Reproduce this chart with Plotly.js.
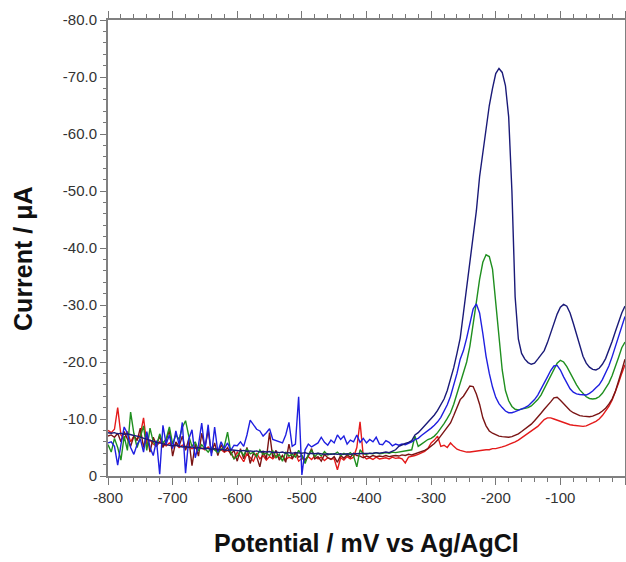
<!DOCTYPE html>
<html>
<head>
<meta charset="utf-8">
<script src="https://cdn.plot.ly/plotly-3.0.1.min.js"></script>
<style>html,body{margin:0;padding:0;background:#fff;}#chart{width:626px;height:562px;}</style>
</head>
<body>
<div id="chart"></div>
<script>
// Potential (mV vs Ag/AgCl), 5 mV steps from -800 to 0
const potential = [
-800,-795,-790,-785,-780,-775,-770,-765,-760,-755,
-750,-745,-740,-735,-730,-725,-720,-715,-710,-705,
-700,-695,-690,-685,-680,-675,-670,-665,-660,-655,
-650,-645,-640,-635,-630,-625,-620,-615,-610,-605,
-600,-595,-590,-585,-580,-575,-570,-565,-560,-555,
-550,-545,-540,-535,-530,-525,-520,-515,-510,-505,
-500,-495,-490,-485,-480,-475,-470,-465,-460,-455,
-450,-445,-440,-435,-430,-425,-420,-415,-410,-405,
-400,-395,-390,-385,-380,-375,-370,-365,-360,-355,
-350,-345,-340,-335,-330,-325,-320,-315,-310,-305,
-300,-295,-290,-285,-280,-275,-270,-265,-260,-255,
-250,-245,-240,-235,-230,-225,-220,-215,-210,-205,
-200,-195,-190,-185,-180,-175,-170,-165,-160,-155,
-150,-145,-140,-135,-130,-125,-120,-115,-110,-105,
-100,-95,-90,-85,-80,-75,-70,-65,-60,-55,
-50,-45,-40,-35,-30,-25,-20,-15,-10,-5,
0];

// Current (µA) for each curve
const currentNavy = [
-7.6,-7.5,-7.6,-7.4,-7.5,-7.3,-7.4,-7.2,-7.1,-7.0,
-6.8,-6.7,-6.5,-6.3,-6.0,-5.9,-5.8,-5.6,-5.5,-5.4,
-5.3,-5.4,-5.2,-5.1,-5.2,-5.0,-5.1,-4.9,-5.0,-4.8,
-4.9,-4.8,-4.7,-4.8,-4.6,-4.7,-4.6,-4.5,-4.6,-4.5,
-4.5,-4.4,-4.5,-4.3,-4.4,-4.3,-4.4,-4.2,-4.3,-4.2,
-4.3,-4.1,-4.2,-4.1,-4.2,-4.0,-4.1,-4.0,-4.1,-4.0,
-4.0,-4.1,-3.9,-4.0,-3.9,-4.0,-3.9,-3.8,-3.9,-3.8,
-3.9,-3.8,-3.9,-3.8,-3.9,-3.8,-3.9,-3.9,-4.0,-3.9,
-4.0,-3.9,-4.0,-4.1,-4.0,-4.1,-4.2,-4.1,-4.3,-4.6,
-5.2,-5.5,-5.7,-5.9,-6.2,-7.2,-7.6,-8.2,-8.8,-9.5,
-10.1,-10.7,-11.5,-12.4,-13.5,-15.0,-16.8,-19.0,-21.5,-24.2,
-28.6,-33.0,-37.3,-41.5,-46.5,-52.5,-57.0,-61.0,-65.0,-68.0,
-70.6,-71.5,-70.8,-68.5,-63.0,-50.0,-31.4,-24.0,-21.5,-20.5,
-19.9,-19.6,-19.8,-20.5,-21.2,-22.0,-23.4,-25.0,-26.8,-28.4,
-29.6,-30.1,-29.8,-28.6,-26.8,-24.8,-22.8,-21.0,-19.8,-19.1,
-18.7,-18.6,-18.9,-19.6,-20.6,-22.0,-23.6,-25.3,-27.0,-28.6,
-29.8];

const currentBlue = [
-5.8,-6.0,-5.2,-1.9,-5.5,-8.6,-7.5,-5.0,-3.8,-5.5,
-6.5,-4.2,-7.8,-5.0,-3.6,-6.2,-0.3,-8.9,-5.6,-7.2,
-4.8,-7.9,-5.5,-9.4,-0.5,-6.5,-8.1,-3.2,-5.4,-9.3,
-4.6,-9.0,-3.5,-8.6,-4.2,-6.0,-4.8,-5.8,-4.5,-5.4,
-5.3,-6.0,-5.2,-7.2,-9.8,-9.0,-8.2,-7.9,-7.0,-7.6,
-8.3,-6.4,-6.2,-6.0,-5.8,-7.2,-9.4,-5.2,-5.6,-13.9,
-0.2,-4.6,-5.6,-5.1,-5.4,-5.8,-6.8,-5.9,-5.4,-6.3,
-5.8,-7.2,-6.4,-7.0,-5.6,-6.3,-6.0,-7.2,-5.9,-6.6,
-5.8,-6.4,-6.0,-6.8,-5.6,-5.5,-6.2,-5.9,-5.3,-5.6,
-5.4,-5.6,-5.5,-5.7,-6.0,-6.4,-6.6,-7.1,-7.5,-8.0,
-8.4,-8.9,-9.5,-10.3,-11.3,-12.5,-14.0,-15.8,-18.0,-20.5,
-22.0,-24.2,-26.8,-29.3,-30.2,-28.6,-25.0,-21.0,-18.0,-15.6,
-13.8,-12.7,-12.0,-11.4,-11.1,-11.1,-11.3,-11.5,-11.8,-12.0,
-12.3,-12.8,-13.4,-14.2,-15.2,-16.3,-17.4,-18.5,-19.3,-19.4,
-18.6,-17.4,-16.2,-15.3,-14.7,-14.4,-14.3,-14.2,-14.2,-14.5,
-14.9,-15.5,-16.0,-16.9,-18.0,-19.3,-20.9,-22.6,-24.4,-26.3,
-28.0];

const currentGreen = [
-5.5,-4.2,-6.6,-5.0,-2.8,-7.0,-4.5,-11.2,-7.5,-5.0,
-6.8,-8.8,-4.5,-8.4,-6.0,-5.2,-7.4,-5.8,-6.5,-8.6,
-5.6,-7.2,-6.4,-8.5,-9.7,-7.0,-5.2,-6.0,-4.4,-5.5,
-4.8,-4.2,-5.0,-4.6,-4.1,-4.6,-5.2,-7.7,-4.2,-3.0,
-3.5,-4.4,-3.6,-4.8,-3.9,-4.2,-3.4,-4.6,-3.8,-4.0,
-3.6,-4.4,-3.2,-3.8,-2.6,-4.2,-3.5,-3.8,-3.3,-4.5,
-3.6,-2.2,-3.8,-4.5,-3.4,-4.0,-3.5,-4.3,-3.7,-3.9,
-3.8,-4.2,-3.6,-4.0,-3.7,-4.1,-3.5,-1.6,-4.6,-3.9,
-3.8,-4.0,-3.9,-4.1,-3.9,-4.0,-4.1,-4.0,-4.2,-4.1,
-4.2,-4.3,-4.3,-4.4,-4.6,-7.0,-5.2,-5.6,-6.0,-6.4,
-6.6,-7.0,-7.6,-8.3,-9.2,-10.1,-11.1,-12.6,-14.4,-16.3,
-18.2,-20.0,-22.8,-26.3,-30.5,-34.5,-37.5,-38.8,-38.5,-36.3,
-30.5,-23.5,-18.6,-15.0,-13.2,-12.2,-11.7,-11.6,-11.7,-11.8,
-12.0,-12.3,-12.8,-13.4,-14.2,-15.3,-16.5,-17.7,-18.8,-19.8,
-20.3,-20.0,-19.2,-18.1,-17.0,-16.0,-15.1,-14.4,-13.9,-13.6,
-13.5,-13.6,-13.9,-14.5,-15.3,-16.3,-17.6,-19.1,-20.8,-22.5,
-23.5];

const currentMaroon = [
-7.0,-7.2,-6.8,-7.5,-6.0,-7.8,-6.5,-5.2,-7.0,-6.2,
-8.4,-5.0,-7.5,-4.2,-6.8,-5.5,-7.0,-5.0,-6.2,-8.0,
-3.5,-6.0,-5.2,-7.0,-4.5,-6.5,-1.8,-5.6,-3.5,-7.5,
-5.0,-8.0,-4.0,-5.8,-3.6,-5.5,-4.3,-5.0,-3.8,-4.5,
-2.6,-4.8,-3.0,-5.0,-2.2,-4.0,-3.4,-1.6,-4.4,-3.0,
-7.6,-3.2,-4.5,-2.8,-3.6,-2.4,-5.6,-3.0,-4.2,-3.3,
-3.6,-2.8,-3.5,-4.8,-3.0,-3.4,-2.6,-3.8,-3.2,-2.9,
-3.4,-2.4,-3.6,-3.1,-3.7,-3.3,-4.0,-3.6,-3.5,-3.2,
-3.5,-3.3,-3.6,-3.4,-3.5,-3.4,-3.6,-3.4,-3.5,-3.6,
-3.5,-3.7,-3.6,-3.8,-3.7,-3.9,-4.0,-4.2,-4.5,-4.8,
-5.2,-5.7,-6.3,-7.0,-7.7,-8.4,-9.3,-10.6,-12.0,-13.4,
-14.0,-15.0,-15.8,-15.7,-14.4,-12.6,-10.2,-8.8,-7.9,-7.5,
-7.2,-7.0,-6.9,-6.8,-6.8,-6.9,-7.1,-7.4,-7.8,-8.2,
-8.6,-9.1,-9.7,-10.3,-11.0,-11.7,-12.3,-13.0,-13.7,-13.8,
-13.3,-12.7,-12.1,-11.5,-11.1,-10.8,-10.6,-10.5,-10.4,-10.4,
-10.5,-10.7,-11.0,-11.4,-11.9,-12.6,-13.5,-14.8,-16.5,-18.5,
-20.5];

const currentRed = [
-8.0,-7.6,-8.2,-12.0,-7.2,-6.5,-7.8,-6.0,-7.0,-6.4,
-7.2,-10.2,-5.5,-6.3,-5.6,-5.2,-6.0,-5.6,-5.3,-5.8,
-5.2,-5.6,-5.0,-5.4,-4.9,-5.2,-4.8,-5.0,-4.7,-4.9,
-4.6,-5.1,-4.5,-4.8,-4.4,-4.6,-4.2,-4.5,-4.1,-3.0,
-4.2,-3.4,-2.5,-3.9,-3.2,-2.6,-4.0,-3.0,-3.6,-2.8,
-3.4,-3.0,-3.6,-3.2,-3.5,-2.9,-3.3,-3.0,-4.0,-2.6,
-3.1,-2.8,-3.4,-2.9,-3.5,-3.0,-3.3,-2.7,-3.2,-3.0,
-3.0,-1.1,-3.2,-2.8,-3.4,-3.0,-3.3,-5.0,-9.5,-3.5,
-3.0,-3.2,-2.9,-3.3,-3.0,-3.1,-3.2,-3.0,-3.3,-3.1,
-3.2,-3.0,-2.3,-3.3,-3.4,-3.6,-3.8,-4.0,-4.3,-4.8,
-5.8,-6.3,-7.0,-5.2,-5.4,-5.0,-5.8,-5.2,-4.7,-4.5,
-4.3,-4.2,-4.2,-4.3,-4.3,-4.4,-4.5,-4.6,-4.6,-4.8,
-4.8,-4.9,-5.1,-5.3,-5.5,-5.8,-6.0,-6.3,-6.7,-7.1,
-7.4,-7.8,-8.2,-8.7,-9.3,-9.9,-10.2,-10.2,-10.0,-9.8,
-9.5,-9.3,-9.2,-9.0,-8.9,-8.8,-8.7,-8.7,-8.8,-9.0,
-9.3,-9.6,-10.0,-10.6,-11.3,-12.2,-13.3,-14.7,-16.3,-18.0,
-19.5];

const yTickVals = [-80,-70,-60,-50,-40,-30,-20,-10,0];
const yTickText = ['-80.0','-70.0','-60.0','-50.0','-40.0','-30.0','-20.0','-10.0','0'];
const xTickVals = [-800,-700,-600,-500,-400,-300,-200,-100,0];
const xTickText = ['-800','-700','-600','-500','-400','-300','-200','-100','0'];
const xTitle = 'Potential / mV vs Ag/AgCl';
const yTitle = 'Current / μA';

const series = [
  {y: currentRed, color: '#e41a1a'},
  {y: currentMaroon, color: '#7a1414'},
  {y: currentGreen, color: '#1f8f1f'},
  {y: currentBlue, color: '#1f1fe0'},
  {y: currentNavy, color: '#1a1a78'}
];

const traces = series.map(s => ({
  x: potential, y: s.y, type: 'scatter', mode: 'lines',
  line: {color: s.color, width: 1.4}, hoverinfo: 'skip'
}));

const axisFont = {family: 'Liberation Sans, Arial, sans-serif', size: 15, color: '#333'};
const titleFont = {family: 'Liberation Sans, Arial, sans-serif', size: 25, color: '#111', weight: 'bold'};
const layout = {
  width: 626, height: 562,
  margin: {l: 108, r: 1, t: 20, b: 86},
  paper_bgcolor: '#ffffff', plot_bgcolor: '#ffffff',
  showlegend: false,
  xaxis: {
    range: [-800, 0], tickmode: 'array', tickvals: xTickVals, ticktext: xTickText,
    ticks: 'outside', ticklen: 7, tickwidth: 1, tickcolor: '#777',
    minor: {tickmode: 'linear', tick0: 0, dtick: 20, ticks: 'outside', ticklen: 4, tickcolor: '#777'},
    showline: true, linecolor: '#808080', linewidth: 2, mirror: 'ticks',
    showgrid: false, zeroline: false, tickfont: axisFont
  },
  yaxis: {
    range: [0, -80], tickmode: 'array', tickvals: yTickVals, ticktext: yTickText,
    ticks: 'outside', ticklen: 6, tickwidth: 1, tickcolor: '#777',
    minor: {tickmode: 'linear', tick0: 0, dtick: 2, ticks: 'outside', ticklen: 3, tickcolor: '#777'},
    showline: true, linecolor: '#808080', linewidth: 2, mirror: 'ticks',
    showgrid: false, zeroline: false, tickfont: axisFont
  },
  annotations: [
    {text: xTitle, xref: 'paper', yref: 'paper', x: 0.5, y: -0.147,
     xanchor: 'center', yanchor: 'middle', showarrow: false, font: titleFont},
    {text: yTitle, xref: 'paper', yref: 'paper', x: -0.1644, y: 0.476, textangle: -90,
     xanchor: 'center', yanchor: 'middle', showarrow: false, font: titleFont}
  ]
};

Plotly.newPlot('chart', traces, layout, {displayModeBar: false, staticPlot: true});
</script>
</body>
</html>
